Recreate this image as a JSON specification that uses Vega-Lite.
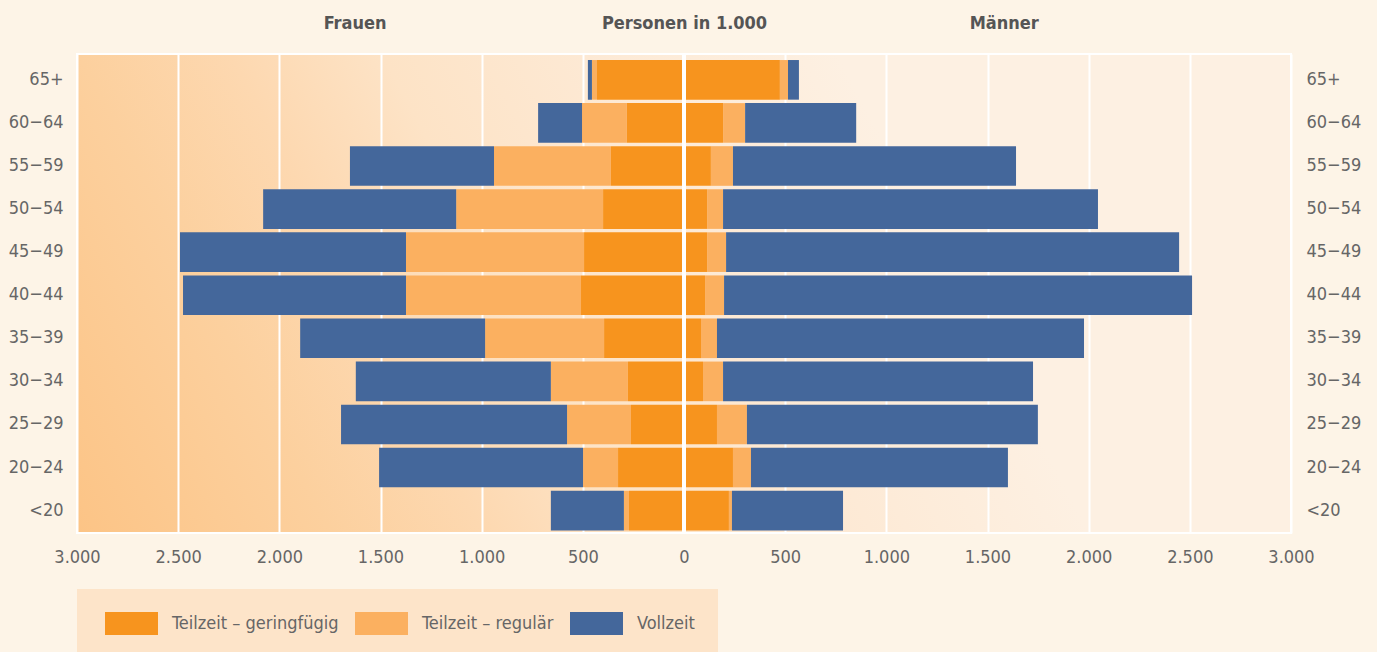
{
  "$schema": "https://vega.github.io/schema/vega-lite/v6.json",
  "width": 1214,
  "height": 479,
  "autosize": {"type": "none"},
  "padding": {"left": 77, "top": 54, "right": 86, "bottom": 119},
  "background": "#fdf4e7",
  "view": {
    "stroke": "white",
    "strokeWidth": 2,
    "fill": {
      "gradient": "linear",
      "x1": 0, "y1": 1, "x2": 0.8, "y2": 0.834,
      "stops": [
        {"offset": 0, "color": "#fcc486"},
        {"offset": 0.25, "color": "#fcd09e"},
        {"offset": 0.4, "color": "#fdd8b0"},
        {"offset": 0.55, "color": "#fde3c6"},
        {"offset": 0.75, "color": "#fde9d4"},
        {"offset": 1, "color": "#fdf0e2"}
      ]
    }
  },
  "config": {
    "font": "'DejaVu Sans Condensed', Roboto, sans-serif",
    "axis": {
      "labelFont": "'DejaVu Sans Condensed', Roboto, sans-serif",
      "labelColor": "#666666",
      "labelFontSize": 18,
      "domain": false,
      "ticks": false,
      "tickSize": 0,
      "title": null
    },
    "legend": {
      "orient": "none",
      "legendX": 0,
      "legendY": 535,
      "direction": "horizontal",
      "title": null,
      "fillColor": "#fde4c9",
      "padding": 23,
      "symbolType": "M-2.304,-1H2.304V1H-2.304Z",
      "symbolSize": 529,
      "symbolStrokeWidth": 0,
      "symbolOpacity": 1,
      "symbolOffset": 20,
      "labelOffset": 29,
      "columnPadding": 11,
      "labelFont": "'DejaVu Sans Condensed', Roboto, sans-serif",
      "labelFontSize": 18,
      "labelColor": "#666666",
      "labelLimit": 400
    }
  },
  "data": {
    "values": [
      {"age": "65+", "sex": "Frauen", "group": "Teilzeit – geringfügig", "value": -430},
      {"age": "65+", "sex": "Frauen", "group": "Teilzeit – regulär", "value": -25},
      {"age": "65+", "sex": "Frauen", "group": "Vollzeit", "value": -20},
      {"age": "65+", "sex": "Männer", "group": "Teilzeit – geringfügig", "value": 474},
      {"age": "65+", "sex": "Männer", "group": "Teilzeit – regulär", "value": 40},
      {"age": "65+", "sex": "Männer", "group": "Vollzeit", "value": 54},
      {"age": "60−64", "sex": "Frauen", "group": "Teilzeit – geringfügig", "value": -282},
      {"age": "60−64", "sex": "Frauen", "group": "Teilzeit – regulär", "value": -222},
      {"age": "60−64", "sex": "Frauen", "group": "Vollzeit", "value": -217},
      {"age": "60−64", "sex": "Männer", "group": "Teilzeit – geringfügig", "value": 193},
      {"age": "60−64", "sex": "Männer", "group": "Teilzeit – regulär", "value": 109},
      {"age": "60−64", "sex": "Männer", "group": "Vollzeit", "value": 549},
      {"age": "55−59", "sex": "Frauen", "group": "Teilzeit – geringfügig", "value": -361},
      {"age": "55−59", "sex": "Frauen", "group": "Teilzeit – regulär", "value": -578},
      {"age": "55−59", "sex": "Frauen", "group": "Vollzeit", "value": -712},
      {"age": "55−59", "sex": "Männer", "group": "Teilzeit – geringfügig", "value": 133},
      {"age": "55−59", "sex": "Männer", "group": "Teilzeit – regulär", "value": 109},
      {"age": "55−59", "sex": "Männer", "group": "Vollzeit", "value": 1399},
      {"age": "50−54", "sex": "Frauen", "group": "Teilzeit – geringfügig", "value": -400},
      {"age": "50−54", "sex": "Frauen", "group": "Teilzeit – regulär", "value": -726},
      {"age": "50−54", "sex": "Frauen", "group": "Vollzeit", "value": -954},
      {"age": "50−54", "sex": "Männer", "group": "Teilzeit – geringfügig", "value": 114},
      {"age": "50−54", "sex": "Männer", "group": "Teilzeit – regulär", "value": 79},
      {"age": "50−54", "sex": "Männer", "group": "Vollzeit", "value": 1853},
      {"age": "45−49", "sex": "Frauen", "group": "Teilzeit – geringfügig", "value": -494},
      {"age": "45−49", "sex": "Frauen", "group": "Teilzeit – regulär", "value": -880},
      {"age": "45−49", "sex": "Frauen", "group": "Vollzeit", "value": -1117},
      {"age": "45−49", "sex": "Männer", "group": "Teilzeit – geringfügig", "value": 114},
      {"age": "45−49", "sex": "Männer", "group": "Teilzeit – regulär", "value": 94},
      {"age": "45−49", "sex": "Männer", "group": "Vollzeit", "value": 2239},
      {"age": "40−44", "sex": "Frauen", "group": "Teilzeit – geringfügig", "value": -509},
      {"age": "40−44", "sex": "Frauen", "group": "Teilzeit – regulär", "value": -865},
      {"age": "40−44", "sex": "Frauen", "group": "Vollzeit", "value": -1102},
      {"age": "40−44", "sex": "Männer", "group": "Teilzeit – geringfügig", "value": 104},
      {"age": "40−44", "sex": "Männer", "group": "Teilzeit – regulär", "value": 94},
      {"age": "40−44", "sex": "Männer", "group": "Vollzeit", "value": 2313},
      {"age": "35−39", "sex": "Frauen", "group": "Teilzeit – geringfügig", "value": -395},
      {"age": "35−39", "sex": "Frauen", "group": "Teilzeit – regulär", "value": -588},
      {"age": "35−39", "sex": "Frauen", "group": "Vollzeit", "value": -914},
      {"age": "35−39", "sex": "Männer", "group": "Teilzeit – geringfügig", "value": 84},
      {"age": "35−39", "sex": "Männer", "group": "Teilzeit – regulär", "value": 79},
      {"age": "35−39", "sex": "Männer", "group": "Vollzeit", "value": 1814},
      {"age": "30−34", "sex": "Frauen", "group": "Teilzeit – geringfügig", "value": -277},
      {"age": "30−34", "sex": "Frauen", "group": "Teilzeit – regulär", "value": -381},
      {"age": "30−34", "sex": "Frauen", "group": "Vollzeit", "value": -964},
      {"age": "30−34", "sex": "Männer", "group": "Teilzeit – geringfügig", "value": 94},
      {"age": "30−34", "sex": "Männer", "group": "Teilzeit – regulär", "value": 99},
      {"age": "30−34", "sex": "Männer", "group": "Vollzeit", "value": 1532},
      {"age": "25−29", "sex": "Frauen", "group": "Teilzeit – geringfügig", "value": -262},
      {"age": "25−29", "sex": "Frauen", "group": "Teilzeit – regulär", "value": -316},
      {"age": "25−29", "sex": "Frauen", "group": "Vollzeit", "value": -1117},
      {"age": "25−29", "sex": "Männer", "group": "Teilzeit – geringfügig", "value": 163},
      {"age": "25−29", "sex": "Männer", "group": "Teilzeit – regulär", "value": 148},
      {"age": "25−29", "sex": "Männer", "group": "Vollzeit", "value": 1438},
      {"age": "20−24", "sex": "Frauen", "group": "Teilzeit – geringfügig", "value": -326},
      {"age": "20−24", "sex": "Frauen", "group": "Teilzeit – regulär", "value": -173},
      {"age": "20−24", "sex": "Frauen", "group": "Vollzeit", "value": -1008},
      {"age": "20−24", "sex": "Männer", "group": "Teilzeit – geringfügig", "value": 242},
      {"age": "20−24", "sex": "Männer", "group": "Teilzeit – regulär", "value": 89},
      {"age": "20−24", "sex": "Männer", "group": "Vollzeit", "value": 1270},
      {"age": "<20", "sex": "Frauen", "group": "Teilzeit – geringfügig", "value": -272},
      {"age": "<20", "sex": "Frauen", "group": "Teilzeit – regulär", "value": -25},
      {"age": "<20", "sex": "Frauen", "group": "Vollzeit", "value": -361},
      {"age": "<20", "sex": "Männer", "group": "Teilzeit – geringfügig", "value": 222},
      {"age": "<20", "sex": "Männer", "group": "Teilzeit – regulär", "value": 15},
      {"age": "<20", "sex": "Männer", "group": "Vollzeit", "value": 549}
    ]
  },
  "layer": [
    {
      "mark": {"type": "bar"},
      "encoding": {
        "y": {
          "field": "age",
          "type": "nominal",
          "sort": ["65+", "60−64", "55−59", "50−54", "45−49", "40−44", "35−39", "30−34", "25−29", "20−24", "<20"],
          "scale": {"paddingInner": 0.08, "paddingOuter": 0.1, "align": 0.7},
          "axis": {"orient": "left", "labelPadding": 14, "title": null}
        },
        "x": {
          "field": "value",
          "type": "quantitative",
          "stack": "zero",
          "scale": {"domain": [-3000, 3000], "nice": false, "zero": false},
          "axis": {
            "orient": "bottom",
            "values": [-3000, -2500, -2000, -1500, -1000, -500, 0, 500, 1000, 1500, 2000, 2500, 3000],
            "grid": true,
            "gridColor": "white",
            "gridWidth": 2,
            "gridOpacity": 1,
            "labelFlush": false,
            "labelPadding": 15,
            "labelExpr": "replace(format(abs(datum.value), ','), ',', '.')"
          }
        },
        "color": {
          "field": "group",
          "type": "nominal",
          "scale": {
            "domain": ["Teilzeit – geringfügig", "Teilzeit – regulär", "Vollzeit"],
            "range": ["#f7941e", "#fbb060", "#44679b"]
          }
        }
      }
    },
    {
      "mark": {"type": "rule", "color": "white", "strokeWidth": 3},
      "encoding": {
        "x": {
          "datum": 0,
          "type": "quantitative",
          "axis": {
            "orient": "top",
            "values": [-1628, 0, 1580],
            "grid": false,
            "labelFlush": false,
            "labelFontWeight": "bold",
            "labelColor": "#555555",
            "labelFontSize": 18,
            "labelPadding": 26,
            "labelBaseline": "alphabetic",
            "labelExpr": "datum.value < 0 ? 'Frauen' : (datum.value > 0 ? 'Männer' : 'Personen in 1.000')"
          }
        }
      }
    },
    {
      "mark": {"type": "bar", "opacity": 0},
      "encoding": {
        "y": {
          "field": "age",
          "type": "nominal",
          "sort": ["65+", "60−64", "55−59", "50−54", "45−49", "40−44", "35−39", "30−34", "25−29", "20−24", "<20"],
          "axis": {"orient": "right", "labelPadding": 15, "labelAlign": "left", "title": null}
        }
      }
    }
  ],
  "resolve": {"axis": {"x": "independent", "y": "independent"}}
}
